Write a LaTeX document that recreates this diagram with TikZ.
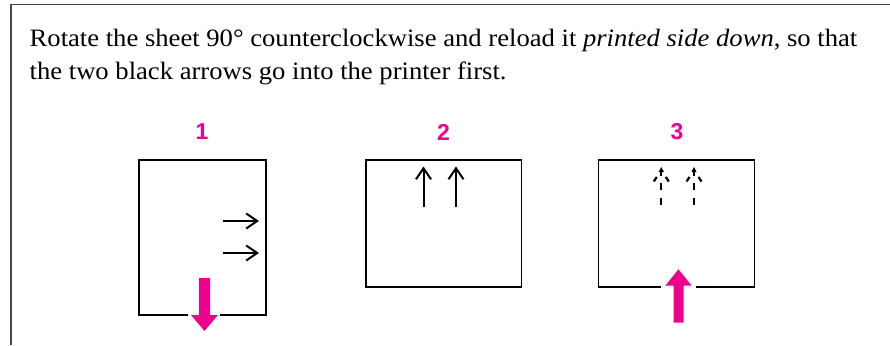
\documentclass[tikz,border=0pt]{standalone}
\usepackage{fontspec}
\setmainfont{Liberation Serif}[FakeStretch=1.065]
\newfontfamily\labelfont{Liberation Sans}
\usetikzlibrary{arrows.meta}
\definecolor{hpmag}{RGB}{236,0,140}
\definecolor{framegray}{RGB}{70,70,70}
\tikzset{
  sheet/.style={draw=black, line width=1.2pt},
  numlabel/.style={font=\labelfont\bfseries\fontsize{23}{26}\selectfont, text=hpmag, inner sep=0pt},
  bodytext/.style={font=\fontsize{25}{32}\selectfont, anchor=base west, inner sep=0pt},
  blackarrow/.style={line width=2pt, -{Straight Barb[length=11pt,width=15pt,line width=2pt]}},
  feedarrow/.style={fill=hpmag, draw=none},
  dashpart/.style={line width=2.2pt, line cap=butt}
}
\begin{document}
\begin{tikzpicture}[x=1pt,y=-1pt]
\useasboundingbox (0,0) rectangle (890,345);
% outer frame
\draw[framegray, line width=1.5pt] (11,345) -- (11,4.5) -- (890,4.5);
% text
\node[bodytext] (line1) at (29.5,46.8) {Rotate the sheet 90° counterclockwise and reload it \textit{printed side down}, so that};
\node[bodytext] (line2) at (29.5,79) {the two black arrows go into the printer first.};
% labels
\node[numlabel] (n1) at (202,132) {1};
\node[numlabel] (n2) at (443.5,132) {2};
\node[numlabel] (n3) at (677,132) {3};
% sheet 1
\draw[sheet] (220,315) -- (266,315) -- (266,160) -- (139,160) -- (139,315) -- (188,315);
\coordinate (a1s) at (223,221); \coordinate (a1e) at (259,221);
\coordinate (a2s) at (223,253); \coordinate (a2e) at (259,253);
\draw[blackarrow] (a1s) -- (a1e);
\draw[blackarrow] (a2s) -- (a2e);
\fill[feedarrow] (199,278) -- (210,278) -- (210,315) -- (218,315) -- (204.5,331) -- (191,315) -- (199,315) -- cycle;
% sheet 2
\draw[sheet] (366,160) rectangle (521.5,287);
\coordinate (b1s) at (423.5,207); \coordinate (b1e) at (423.5,166.5);
\coordinate (b2s) at (456,207); \coordinate (b2e) at (456,166.5);
\draw[blackarrow] (b1s) -- (b1e);
\draw[blackarrow] (b2s) -- (b2e);
% sheet 3
\draw[sheet] (696,287) -- (754.5,287) -- (754.5,160) -- (598.5,160) -- (598.5,287) -- (661,287);
\foreach \xx in {661.3,694} {
  \fill (\xx,167) -- (\xx+2.6,172) -- (\xx-2.6,172) -- cycle;
  \draw[dashpart] (\xx,171) -- (\xx,175.5);
  \draw[dashpart] (\xx,183) -- (\xx,190);
  \draw[dashpart] (\xx,198) -- (\xx,205);
  \draw[dashpart] (\xx-7.5,181.5) -- (\xx-4.5,177);
  \draw[dashpart] (\xx+7.5,181.5) -- (\xx+4.5,177);
}
\fill[feedarrow] (673.5,322.5) -- (683.5,322.5) -- (683.5,285.7) -- (691.7,285.7) -- (678.5,269.3) -- (665.3,285.7) -- (673.5,285.7) -- cycle;
\end{tikzpicture}
\end{document}
